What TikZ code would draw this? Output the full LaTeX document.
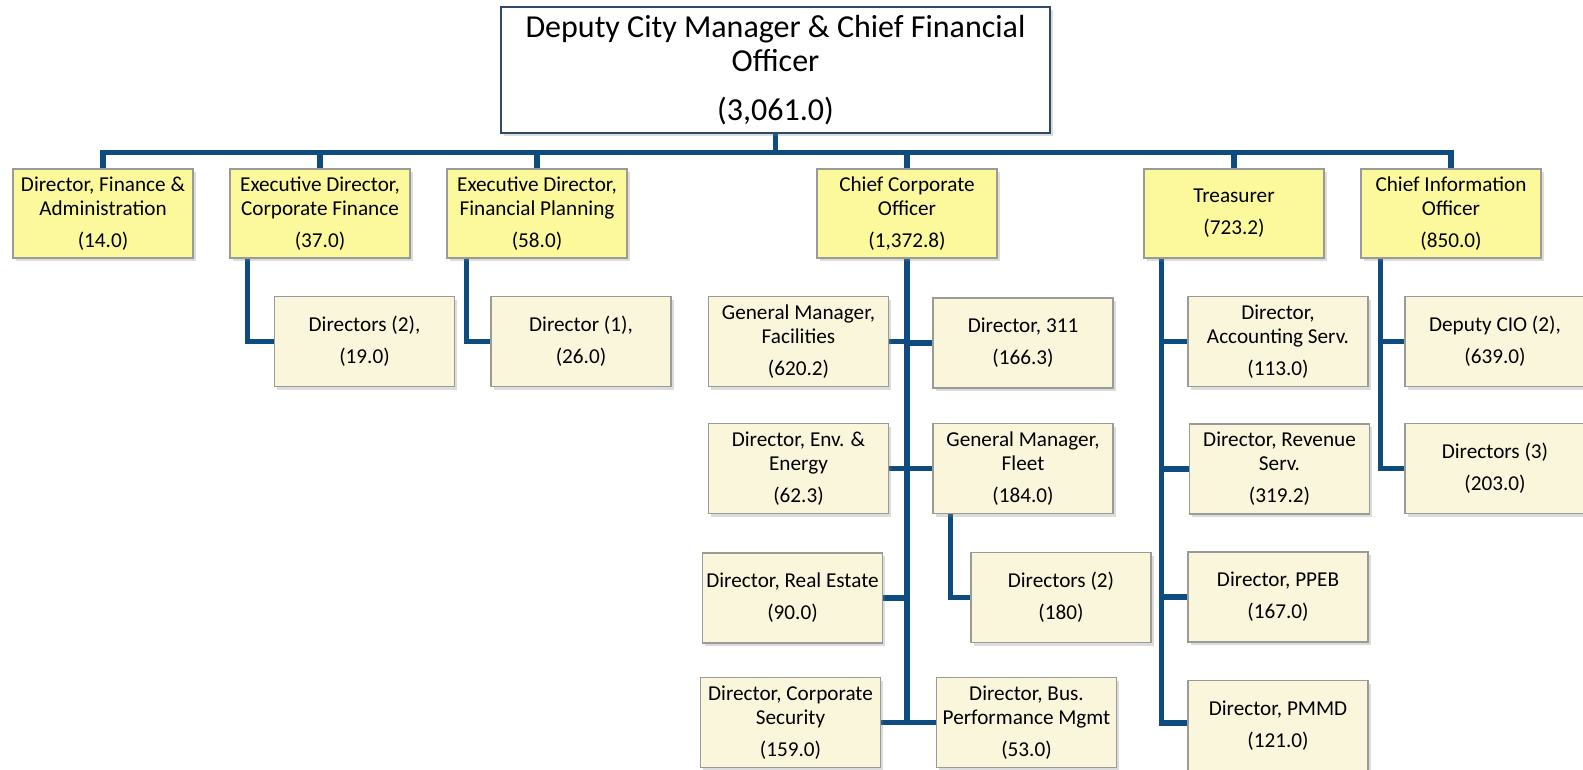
\documentclass[tikz,border=0pt]{standalone}
\usepackage{fontspec}
\setmainfont{Carlito}
\usetikzlibrary{shadows,backgrounds}

\definecolor{linkblue}{HTML}{0E4C7F}
\definecolor{leadfill}{HTML}{FBF99B}
\definecolor{unitfill}{HTML}{FAF6DC}
\definecolor{boxline}{HTML}{9A9A96}
\definecolor{headline}{HTML}{2F4A66}

\tikzset{
  box/.style={draw=boxline, line width=1.2pt, minimum width=180pt,
    align=center, inner sep=2pt, text=black,
    font=\fontsize{21.2}{24}\selectfont,
    drop shadow={shadow xshift=2.5pt, shadow yshift=-3pt, opacity=0.28}},
  lead/.style={box, fill=leadfill, minimum height=89pt},
  unit/.style={box, fill=unitfill, minimum height=90pt},
  head/.style={draw=headline, line width=2.4pt, fill=white,
    minimum width=549pt, minimum height=126pt, align=center, inner sep=2pt,
    font=\fontsize{32}{34.5}\selectfont,
    drop shadow={shadow xshift=2.5pt, shadow yshift=-3pt, opacity=0.28}},
  conn/.style={draw=linkblue, line width=5.5pt, line cap=rect, line join=miter}
}

\begin{document}
\begin{tikzpicture}[x=1pt, y=-1pt]
\useasboundingbox (0,0) rectangle (1583,770);

% head of the department
\node[head] (top) at (775.5,70) {Deputy City Manager \& Chief Financial\\Officer\\[14pt](3,061.0)};

% direct reports
\node[lead] (b1)  at (103,213.5)  {Director, Finance \&\\Administration\\[8pt](14.0)};
\node[lead] (b2)  at (320,213.5)  {Executive Director,\\Corporate Finance\\[8pt](37.0)};
\node[lead] (b3)  at (537,213.5)  {Executive Director,\\Financial Planning\\[8pt](58.0)};
\node[lead] (cco) at (907,213.5)  {Chief Corporate\\Officer\\[8pt](1,372.8)};
\node[lead] (tre) at (1234,213.5) {Treasurer\\[8pt](723.2)};
\node[lead] (cio) at (1451,213.5) {Chief Information\\Officer\\[8pt](850.0)};

% corporate finance and financial planning
\node[unit] (d19) at (364.5,341.5) {Directors (2),\\[8pt](19.0)};
\node[unit] (d26) at (581,341.5)   {Director (1),\\[8pt](26.0)};

% chief corporate officer
\node[unit] (fac)   at (798.5,341.5) {General Manager,\\Facilities\\[8pt](620.2)};
\node[unit] (d311)  at (1023,343)    {Director, 311\\[8pt](166.3)};
\node[unit] (env)   at (798.5,468.5) {Director, Env. \&\\Energy\\[8pt](62.3)};
\node[unit] (fleet) at (1023,468.5)  {General Manager,\\Fleet\\[8pt](184.0)};
\node[unit] (fd2)   at (1061,597.5)  {Directors (2)\\[8pt](180)};
\node[unit] (rea)   at (792.5,598)   {Director, Real Estate\\[8pt](90.0)};
\node[unit] (sec)   at (790.5,722.5) {Director, Corporate\\Security\\[8pt](159.0)};
\node[unit] (bpm)   at (1026.5,722.5){Director, Bus.\\Performance Mgmt\\[8pt](53.0)};

% treasurer
\node[unit] (acc)  at (1278,341.5)  {Director,\\Accounting Serv.\\[8pt](113.0)};
\node[unit] (rev)  at (1279.5,469)  {Director, Revenue\\Serv.\\[8pt](319.2)};
\node[unit] (ppeb) at (1278,597)    {Director, PPEB\\[8pt](167.0)};
\node[unit] (pmmd) at (1278,725.5)  {Director, PMMD\\[8pt](121.0)};

% chief information officer
\node[unit] (dcio) at (1495,341.5) {Deputy CIO (2),\\[8pt](639.0)};
\node[unit] (d3)   at (1495,468.5) {Directors (3)\\[8pt](203.0)};

% bus level and spine tops
\coordinate (bus) at (0,152.5);
\coordinate (cfspine) at ([xshift=18pt]b2.south west);
\coordinate (fpspine) at ([xshift=20pt]b3.south west);
\coordinate (flspine) at ([xshift=18pt]fleet.south west);
\coordinate (trspine) at ([xshift=18pt]tre.south west);
\coordinate (cispine) at ([xshift=20pt]cio.south west);

\begin{scope}[on background layer]
  % main bus
  \draw[conn] (top.south) -- (top.south |- bus);
  \draw[conn] (b1.north) -- (b1.north |- bus) -- (cio.north |- bus) -- (cio.north);
  \foreach \n in {b2,b3,cco,tre}
    \draw[conn] (\n.north) -- (\n.north |- bus);

  % single-child branches
  \draw[conn] (cfspine) |- (d19.west);
  \draw[conn] (fpspine) |- (d26.west);
  \draw[conn] (flspine) |- (fd2.west);

  % chief corporate officer spine
  \draw[conn] (cco.south) -- (cco.south |- sec.east);
  \foreach \n in {fac,env,rea,sec}
    \draw[conn] (\n.east) -- (\n.east -| cco.south);
  \foreach \n in {d311,fleet,bpm}
    \draw[conn] (\n.west) -- (\n.west -| cco.south);

  % treasurer spine
  \draw[conn] (trspine) |- ([yshift=2.5pt]pmmd.west);
  \foreach \n in {acc,rev,ppeb}
    \draw[conn] (\n.west) -- (\n.west -| trspine);

  % chief information officer spine
  \draw[conn] (cispine) |- (d3.west);
  \draw[conn] (dcio.west) -- (dcio.west -| cispine);
\end{scope}
\end{tikzpicture}
\end{document}
